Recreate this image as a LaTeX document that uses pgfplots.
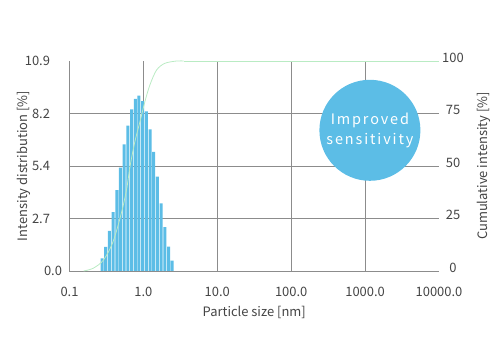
\documentclass[border=0pt]{standalone}
\usepackage{pgfplots}
\pgfplotsset{compat=1.18}
\usepackage{fontspec}
\setmainfont{Noto Sans CJK JP}
\definecolor{barblue}{RGB}{92,189,230}
\definecolor{curvegreen}{RGB}{185,235,195}
\definecolor{gridgray}{RGB}{140,140,140}
\definecolor{txtgray}{RGB}{68,68,68}
\begin{document}
\begin{tikzpicture}[font=\fontsize{13}{15}\selectfont]
\useasboundingbox (-69.5bp,-86bp) rectangle (430.5bp,271bp);
\begin{axis}[
  at={(0,0)}, anchor=south west, scale only axis,
  width=369.5bp, height=210bp,
  xmode=log, xmin=0.1, xmax=10000,
  ymin=0, ymax=10.9,
  axis x line*=bottom, axis y line*=left,
  axis line style={draw=gridgray, line width=0.8pt, -},
  xtick={0.1,1,10,100,1000}, xticklabels={0.1,1.0,10.0,100.0,1000.0},
  extra x ticks={10000}, extra x tick labels={10000.0}, extra x tick style={grid=none},
  ytick={0,2.725,5.45,8.175}, yticklabels={0.0\kern-12bp,2.7,5.4,8.2},
  extra y ticks={10.9}, extra y tick labels={10.9}, extra y tick style={grid=none},
  xmajorgrids=true, ymajorgrids=true, xminorgrids=false,
  grid style={draw=gridgray, line width=0.6pt},
  major tick length=0pt, minor tick length=0pt,
  minor x tick style={draw=none},
  tick label style={text=txtgray},
  xticklabel style={yshift=-13bp},
  yticklabel style={xshift=-16bp},
  xlabel={Particle size [nm]}, ylabel={Intensity distribution [\%]},
  every axis x label/.style={at={(rel axis cs:0.5,-0.1986)}, anchor=center, text=txtgray},
  every axis y label/.style={at={(rel axis cs:-0.1231,0.5)}, anchor=center, rotate=90, text=txtgray},
]
\addplot[ybar, bar width=3bp, bar shift=0pt, fill=barblue, draw=none] coordinates {
(0.2754,0.66) (0.3090,1.25) (0.3467,2.08) (0.3890,3.06) (0.4365,4.20)
(0.4898,5.36) (0.5495,6.57) (0.6166,7.54) (0.6918,8.39) (0.7762,8.93)
(0.8710,9.10) (0.9772,8.82) (1.0965,8.29) (1.2303,7.35) (1.3804,6.18)
(1.5488,4.90) (1.7378,3.51) (1.9498,2.28) (2.1878,1.26) (2.4547,0.54)
};
\end{axis}
\begin{axis}[
  at={(0,0)}, anchor=south west, scale only axis,
  width=369.5bp, height=210bp,
  xmode=log, xmin=0.1, xmax=10000,
  ymin=0, ymax=100,
  axis x line=none, axis y line*=right,
  axis line style={draw=none},
  ytick={0,25,50,75,100},
  major tick length=0pt,
  clip=false,
  tick label style={text=txtgray},
  yticklabel style={anchor=center, xshift=14bp, yshift=3.5bp},
  ylabel={Cumulative intensity [\%]},
  every axis y label/.style={at={(rel axis cs:1.1218,0.5)}, anchor=center, rotate=90, text=txtgray},
  /pgf/number format/assume math mode=true,
]
\addplot[curvegreen, line width=0.8bp, smooth] coordinates {
(0.155,0) (0.209,1.3) (0.288,5.2) (0.389,14) (0.507,28) (0.593,39)
(0.661,50) (0.767,61.6) (0.897,71) (1.047,80.6) (1.225,88.6)
(1.507,95.7) (1.950,98.9) (2.818,100) (3.5,100)
};
\addplot[curvegreen, line width=0.8bp] coordinates {(3.5,100) (10000,100)};
\node[circle, fill=barblue, minimum size=101bp, inner sep=0pt, text=white,
  align=center, font=\fontsize{14.5}{20}\selectfont\addfontfeatures{LetterSpace=13}]
  at (rel axis cs:0.813,0.67) {Improved\\sensitivity};
\end{axis}
\end{tikzpicture}
\end{document}
